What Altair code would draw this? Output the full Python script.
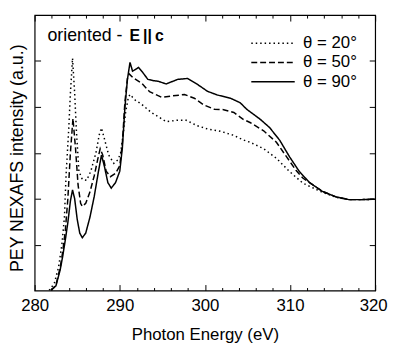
import altair as alt
import pandas as pd

# theta = 90 deg (solid)
e90 = [281.9, 282.5, 283.0, 283.3, 283.6, 283.9, 284.2, 284.45, 284.7, 285.0, 285.3, 285.6, 286.0, 286.5,
       287.0, 287.5, 287.85, 288.2, 288.6, 289.0, 289.5, 290.0, 290.3, 290.6, 290.9, 291.2, 291.5, 291.7,
       292.2, 292.7, 293.3, 294.0, 294.5, 295.45, 296.8, 297.97, 299.13, 300.3, 301.45, 303.0, 304.15,
       304.9, 306.5, 307.6, 308.8, 309.95, 311.1, 312.3, 313.8, 315.4, 316.9, 318.5, 320.0]
i90 = [0.0, 0.1, 0.45, 0.75, 1.1, 1.48, 1.95, 2.19, 2.0, 1.55, 1.25, 1.15, 1.25, 1.6,
       2.05, 2.6, 2.95, 2.7, 2.35, 2.23, 2.35, 2.6, 3.1, 3.98, 4.6, 4.97, 4.78, 4.8,
       4.86, 4.75, 4.6, 4.57, 4.56, 4.5, 4.6, 4.62, 4.49, 4.34, 4.26, 4.19, 4.09,
       3.95, 3.73, 3.55, 3.27, 2.91, 2.59, 2.35, 2.16, 2.04, 1.98, 1.98, 1.99]

# theta = 50 deg (dashed)
e50 = [281.9, 282.5, 283.0, 283.3, 283.6, 283.9, 284.2, 284.5, 284.8, 285.1, 285.4, 285.6, 286.0, 286.5,
       287.0, 287.4, 287.7, 288.0, 288.4, 288.9, 289.5, 290.0, 290.3, 290.6, 290.9, 291.1, 291.6, 292.55,
       293.5, 294.9, 296.2, 297.6, 298.75, 299.9, 301.1, 302.2, 303.4, 304.5, 305.3, 306.9, 308.4,
       309.6, 310.7, 311.5, 312.3, 313.8, 315.4, 316.9, 318.5, 320.0]
i50 = [0.0, 0.12, 0.5, 0.85, 1.3, 2.0, 3.0, 3.75, 3.1, 2.3, 1.9, 1.83, 1.9, 2.15,
       2.5, 2.85, 3.09, 2.95, 2.6, 2.48, 2.55, 2.72, 3.2, 4.1, 4.62, 4.72, 4.63, 4.52,
       4.33, 4.21, 4.24, 4.27, 4.19, 4.04, 3.95, 3.94, 3.88, 3.73, 3.66, 3.48, 3.23,
       2.91, 2.62, 2.45, 2.35, 2.16, 2.04, 1.98, 1.98, 1.99]

# theta = 20 deg (dotted)
e20 = [281.7, 282.3, 282.8, 283.2, 283.5, 283.7, 284.0, 284.2, 284.45, 284.7, 284.9, 285.2, 285.6, 286.1,
       286.6, 287.2, 287.6, 287.85, 288.2, 288.7, 289.3, 289.8, 290.1, 290.4, 290.7, 291.0, 291.2,
       291.8, 292.55, 293.7, 295.45, 296.8, 297.8, 299.1, 300.3, 301.8, 303.4, 304.5, 305.3, 306.9,
       308.4, 309.95, 311.5, 312.3, 313.8, 315.4, 316.9, 318.5, 320.0]
i20 = [0.0, 0.15, 0.5, 1.0, 1.6, 2.55, 3.5, 4.3, 5.06, 4.3, 3.5, 2.6, 2.42, 2.4,
       2.6, 3.0, 3.4, 3.54, 3.3, 2.95, 2.77, 2.85, 3.0, 3.4, 3.9, 4.2, 4.27,
       4.15, 4.06, 3.88, 3.68, 3.71, 3.71, 3.59, 3.52, 3.47, 3.38, 3.28, 3.23, 3.09,
       2.88, 2.59, 2.34, 2.27, 2.14, 2.03, 1.98, 1.98, 1.99]

series = ["θ = 20°", "θ = 50°", "θ = 90°"]
dashes = [[1.5, 3], [6, 3], [1, 0]]

x_major = [280, 290, 300, 310, 320]
x_minor = [282, 284, 286, 288, 292, 294, 296, 298, 302, 304, 306, 308, 312, 314, 316, 318]
y_major = [1, 2, 3, 4, 5]

rows = []
for name, es, vs in [(series[0], e20, i20), (series[1], e50, i50), (series[2], e90, i90)]:
    for k, (e, v) in enumerate(zip(es, vs)):
        rows.append({"E": e, "I": v, "s": name, "o": k})
df = pd.DataFrame(rows)

FONT = "Liberation Sans"
xs = alt.Scale(domain=[280, 320], nice=False)
ys = alt.Scale(domain=[0, 6], nice=False)

base = alt.Chart(df)

lines = base.mark_line(color="black", strokeWidth=1.5, strokeCap="butt", clip=True).encode(
    x=alt.X("E:Q", scale=xs, axis=alt.Axis(
        orient="bottom", values=x_major, tickSize=6, offset=-6, domain=False, grid=False,
        labelFontSize=17, labelFont=FONT, labelColor="black", labelPadding=7, labelFlush=False,
        labelOffset={"condition": {"test": "datum.value == 320", "value": -2}, "value": 0},
        title="Photon Energy (eV)", titleFont=FONT, titleFontSize=17, titleFontWeight="normal",
        titleColor="black", titlePadding=14, tickColor="black", tickWidth=1, minExtent=0)),
    y=alt.Y("I:Q", scale=ys, axis=alt.Axis(
        orient="left", values=y_major, tickSize=6, offset=-6, domain=False, grid=False,
        labels=False, title="PEY NEXAFS intensity (a.u.)", titleFont=FONT, titleFontSize=18,
        titleFontWeight="normal", titleColor="black", titlePadding=8, titleY=144.5,
        tickColor="black", minExtent=0)),
    strokeDash=alt.StrokeDash("s:N", scale=alt.Scale(domain=series, range=dashes),
                              legend=alt.Legend(title=None, orient="none", legendX=233, legendY=20,
                                                symbolType="M-4.4,0H4.4", symbolSize=100,
                                                symbolStrokeWidth=1.5, symbolStrokeColor="black",
                                                symbolFillColor="transparent",
                                                labelFont=FONT, labelFontSize=17, labelColor="black",
                                                labelOffset=22, rowPadding=1.5, padding=0)),
    detail="s:N",
    order="o:Q",
)

top_right = base.mark_point(opacity=0).encode(
    x=alt.X("E:Q", scale=xs, axis=alt.Axis(orient="top", values=x_major, tickSize=6, offset=-6,
                                           domain=False, grid=False, labels=False, title=None,
                                           tickColor="black", minExtent=0)),
    y=alt.Y("I:Q", scale=ys, axis=alt.Axis(orient="right", values=y_major, tickSize=6, offset=-6,
                                           domain=False, grid=False, labels=False, title=None,
                                           tickColor="black", minExtent=0)),
)

minor_bottom = base.mark_point(opacity=0).encode(
    x=alt.X("E:Q", scale=xs, axis=alt.Axis(orient="bottom", values=x_minor, tickSize=3, offset=-3,
                                           domain=False, grid=False, labels=False, title=None,
                                           tickColor="black", minExtent=0)),
    y=alt.Y("I:Q", scale=ys, axis=None),
)

minor_top = base.mark_point(opacity=0).encode(
    x=alt.X("E:Q", scale=xs, axis=alt.Axis(orient="top", values=x_minor, tickSize=3, offset=-3,
                                           domain=False, grid=False, labels=False, title=None,
                                           tickColor="black", minExtent=0)),
    y=alt.Y("I:Q", scale=ys, axis=None),
)

label_df = pd.DataFrame({"t": ["oriented -"]})
label_b = pd.DataFrame({"t": ["E\u2009||\u2009c"]})
txt1 = alt.Chart(label_df).mark_text(align="left", baseline="middle", font=FONT, fontSize=18,
                                     color="black").encode(
    text="t:N", x=alt.value(13), y=alt.value(21))
txt2 = alt.Chart(label_b).mark_text(align="left", baseline="middle", font=FONT, fontSize=16,
                                    fontWeight="bold", color="black").encode(
    text="t:N", x=alt.value(96), y=alt.value(21))

chart = alt.layer(lines, top_right, minor_bottom, minor_top, txt1, txt2).resolve_axis(
    x="independent", y="independent"
).properties(
    width=345, height=279,
    autosize=alt.AutoSizeParams(type="none"),
    padding={"left": 27, "top": 5, "right": 13, "bottom": 52},
    background="white",
).configure_view(stroke="black", strokeWidth=1.2)

chart.save("out.html", embed_options={"renderer": "svg", "actions": False})
